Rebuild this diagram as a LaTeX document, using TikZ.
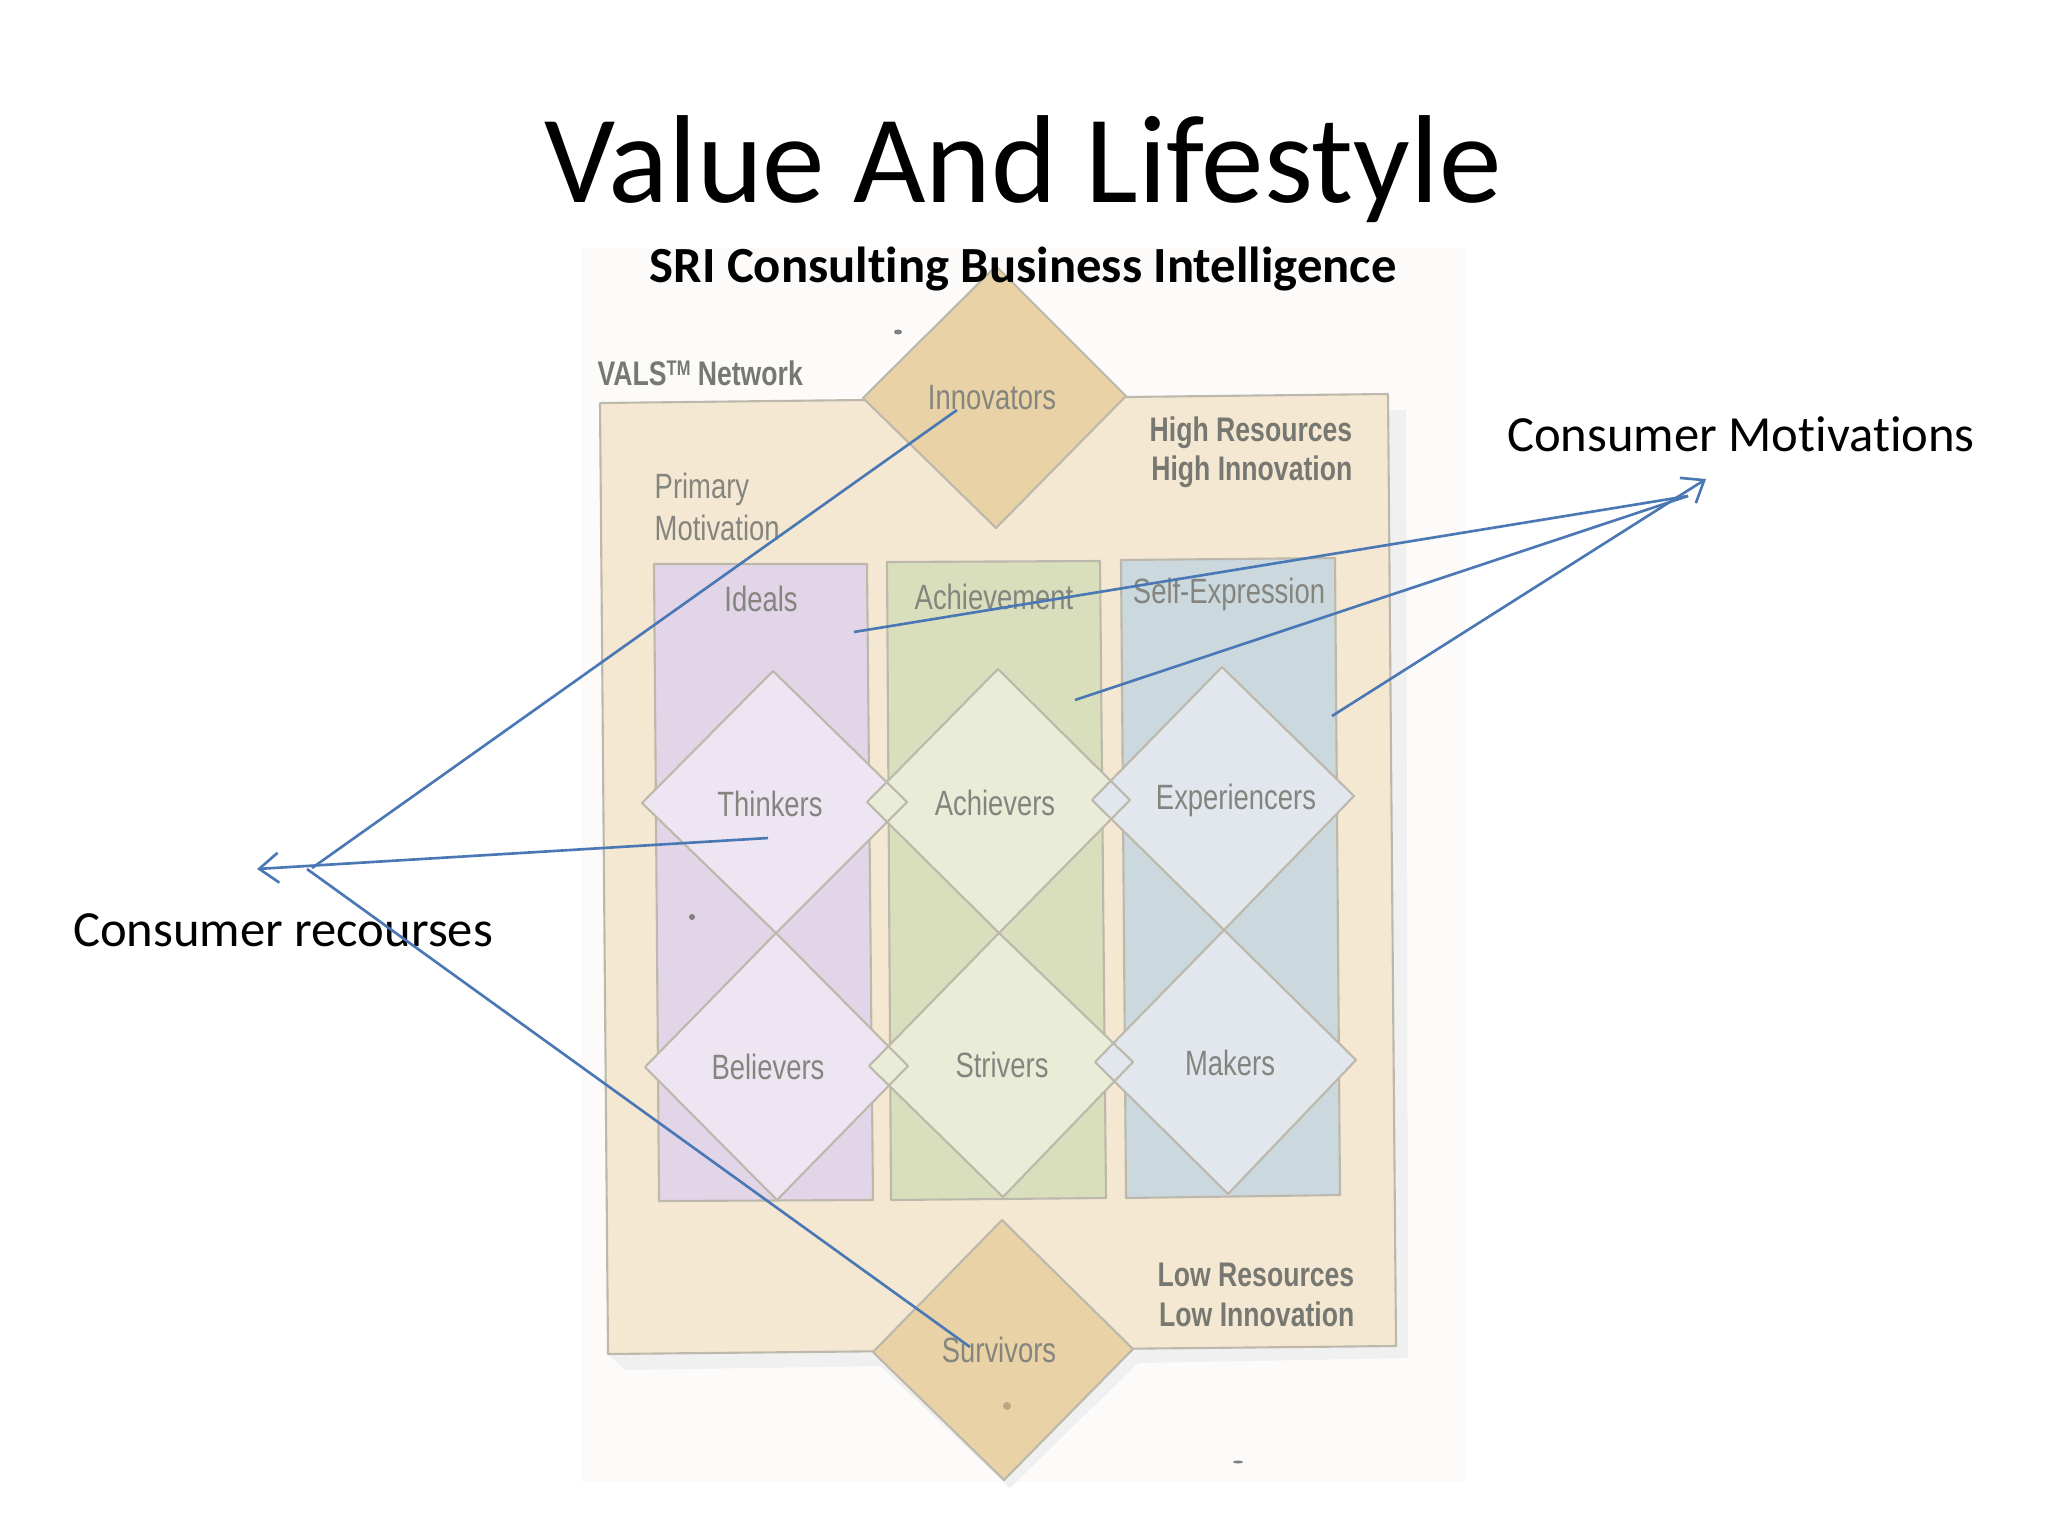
\documentclass[tikz,border=0pt]{standalone}
\usepackage{fontspec}
\usetikzlibrary{arrows.meta}
\setmainfont[Ligatures=NoCommon]{Carlito}
\newfontfamily\photofont[FakeStretch=0.78]{Liberation Sans}
\definecolor{outerfill}{HTML}{F5E8D2}
\definecolor{goldfill}{HTML}{E9D2A6}
\definecolor{purplefill}{HTML}{E2D5E7}
\definecolor{purplelight}{HTML}{EDE5F1}
\definecolor{greenfill}{HTML}{D9DFBC}
\definecolor{greenlight}{HTML}{E9ECD7}
\definecolor{bluefill}{HTML}{CBD8DE}
\definecolor{bluelight}{HTML}{E2E6ED}
\definecolor{edgegrey}{HTML}{BDB8AC}
\definecolor{labelgrey}{HTML}{85857F}
\definecolor{linkblue}{HTML}{4A78B4}
\definecolor{photobg}{HTML}{FCFBFA}
\definecolor{shadowgrey}{HTML}{F1F0F0}
\tikzset{
  x=0.01cm,y=-0.01cm,
  edge/.style={draw=edgegrey,line width=0.6pt,line join=round},
  plabel/.style={inner sep=0pt,text=labelgrey,font=\photofont\fontsize{10}{12}\selectfont},
  pbold/.style={plabel,font=\photofont\bfseries\fontsize{9.7}{12}\selectfont,text=labelgrey!90!black},
  slabel/.style={inner sep=0pt,anchor=base,text=black},
  link/.style={draw=linkblue,line width=0.75pt},
  linkhead/.style={link,-{Straight Barb[length=5.5pt,width=8.5pt,line width=0.75pt]}},
  speck/.style={fill=black!50}
}
\begin{document}
\begin{tikzpicture}
\useasboundingbox (0,0) rectangle (2048,1536);
\fill[white] (0,0) rectangle (2048,1536);
\fill[photobg] (581,248) rectangle (1465,1482);
% shadow
\fill[shadowgrey] (1388,410) -- (1406,410) -- (1408,1358) -- (1138,1363) -- (1010,1488) -- (880,1366) -- (625,1370) -- (608,1354) -- cycle;
% outer panel
\path[fill=outerfill,edge] (600,403) -- (1388,394) -- (1396,1346) -- (608,1354) -- cycle;
% columns
\path[fill=purplefill,edge] (654,564) -- (867,564) -- (873,1200) -- (659,1201) -- cycle;
\path[fill=greenfill,edge] (887,562) -- (1100,561) -- (1106,1198) -- (891,1200) -- cycle;
\path[fill=bluefill,edge] (1121,560) -- (1335,558) -- (1340,1195) -- (1126,1198) -- cycle;
% diamond fills
\fill[goldfill] (996,266) -- (1126,396) -- (996,528) -- (863,398) -- cycle;
\fill[goldfill] (1002,1220) -- (1133,1349) -- (1004,1480) -- (873,1352) -- cycle;
\fill[purplelight] (773,671) -- (907,802) -- (776,933) -- (642,803) -- cycle;
\fill[purplelight] (776,933) -- (908,1066) -- (777,1200) -- (645,1067) -- cycle;
\fill[greenlight] (998,669) -- (1130,800) -- (999,933) -- (867,802) -- cycle;
\fill[greenlight] (999,933) -- (1133,1062) -- (1003,1197) -- (869,1066) -- cycle;
\fill[bluelight] (1222,667) -- (1354,796) -- (1224,930) -- (1092,800) -- cycle;
\fill[bluelight] (1224,930) -- (1356,1060) -- (1228,1194) -- (1095,1062) -- cycle;
% diamond outlines
\draw[edge] (996,266) -- (1126,396) -- (996,528) -- (863,398) -- cycle;
\draw[edge] (1002,1220) -- (1133,1349) -- (1004,1480) -- (873,1352) -- cycle;
\draw[edge] (773,671) -- (907,802) -- (776,933) -- (642,803) -- cycle;
\draw[edge] (776,933) -- (908,1066) -- (777,1200) -- (645,1067) -- cycle;
\draw[edge] (998,669) -- (1130,800) -- (999,933) -- (867,802) -- cycle;
\draw[edge] (999,933) -- (1133,1062) -- (1003,1197) -- (869,1066) -- cycle;
\draw[edge] (1222,667) -- (1354,796) -- (1224,930) -- (1092,800) -- cycle;
\draw[edge] (1224,930) -- (1356,1060) -- (1228,1194) -- (1095,1062) -- cycle;
% specks
\fill[speck] (898,332) ellipse (4 and 2.5);
\fill[speck] (692,917) circle (3);
\fill[goldfill!80!black] (1007,1406) circle (4);
\fill[speck] (1238,1462) ellipse (5 and 1.5);
% photo labels
\node[pbold,anchor=west] (vals) at (597,373) {VALS\raisebox{0.55ex}{\fontsize{6}{6}\selectfont TM} Network};
\node[plabel,anchor=west] (primary) at (654,489) {Primary};
\node[plabel,anchor=west] (motivation) at (654,528) {Motivation};
\node[pbold,anchor=east] (highres) at (1353,433) {High Resources};
\node[pbold,anchor=east] (highinn) at (1353,472) {High Innovation};
\node[pbold,anchor=east] (lowres) at (1355,1275) {Low Resources};
\node[pbold,anchor=east] (lowinn) at (1355,1314) {Low Innovation};
\node[plabel] (innovators) at (992,398) {Innovators};
\node[plabel] (ideals) at (761,599) {Ideals};
\node[plabel] (achievement) at (994,597) {Achievement};
\node[plabel] (selfexp) at (1229,594) {Self-Expression};
\node[plabel] (thinkers) at (770,804) {Thinkers};
\node[plabel] (achievers) at (995,803) {Achievers};
\node[plabel] (experiencers) at (1236,800) {Experiencers};
\node[plabel] (believers) at (768,1067) {Believers};
\node[plabel] (strivers) at (1002,1065) {Strivers};
\node[plabel] (makers) at (1230,1063) {Makers};
\node[plabel] (survivors) at (999,1350) {Survivors};
% slide text
\node[slabel,font=\fontsize{35.6}{40}\selectfont] (title) at (1023,202) {Value And Lifestyle};
\node[slabel,font=\bfseries\fontsize{14.4}{16}\selectfont] (subtitle) at (1023,282) {SRI Consulting Business Intelligence};
\node[slabel,font=\fontsize{14.4}{16}\selectfont] (motivations) at (1741,451) {Consumer Motivations};
\node[slabel,font=\fontsize{14.4}{16}\selectfont] (resources) at (283,946) {Consumer recourses};
% connector ends
\coordinate (mTip) at (1706,479);
\coordinate (mA) at (854,632);
\coordinate (mB) at (1075,700);
\coordinate (mC) at (1332,716);
\coordinate (mAend) at (1688,496);
\coordinate (mBend) at (1688,496);
\coordinate (rTip) at (257,869);
\coordinate (rA) at (768,838);
\coordinate (rB) at (957,410);
\coordinate (rC) at (970,1347);
\coordinate (rBend) at (312,868);
\coordinate (rCend) at (307,869);
\draw[link] (mA) -- (mAend);
\draw[link] (mB) -- (mBend);
\draw[linkhead] (mC) -- (mTip);
\draw[linkhead] (rA) -- (rTip);
\draw[link] (rB) -- (rBend);
\draw[link] (rC) -- (rCend);
\end{tikzpicture}
\end{document}
